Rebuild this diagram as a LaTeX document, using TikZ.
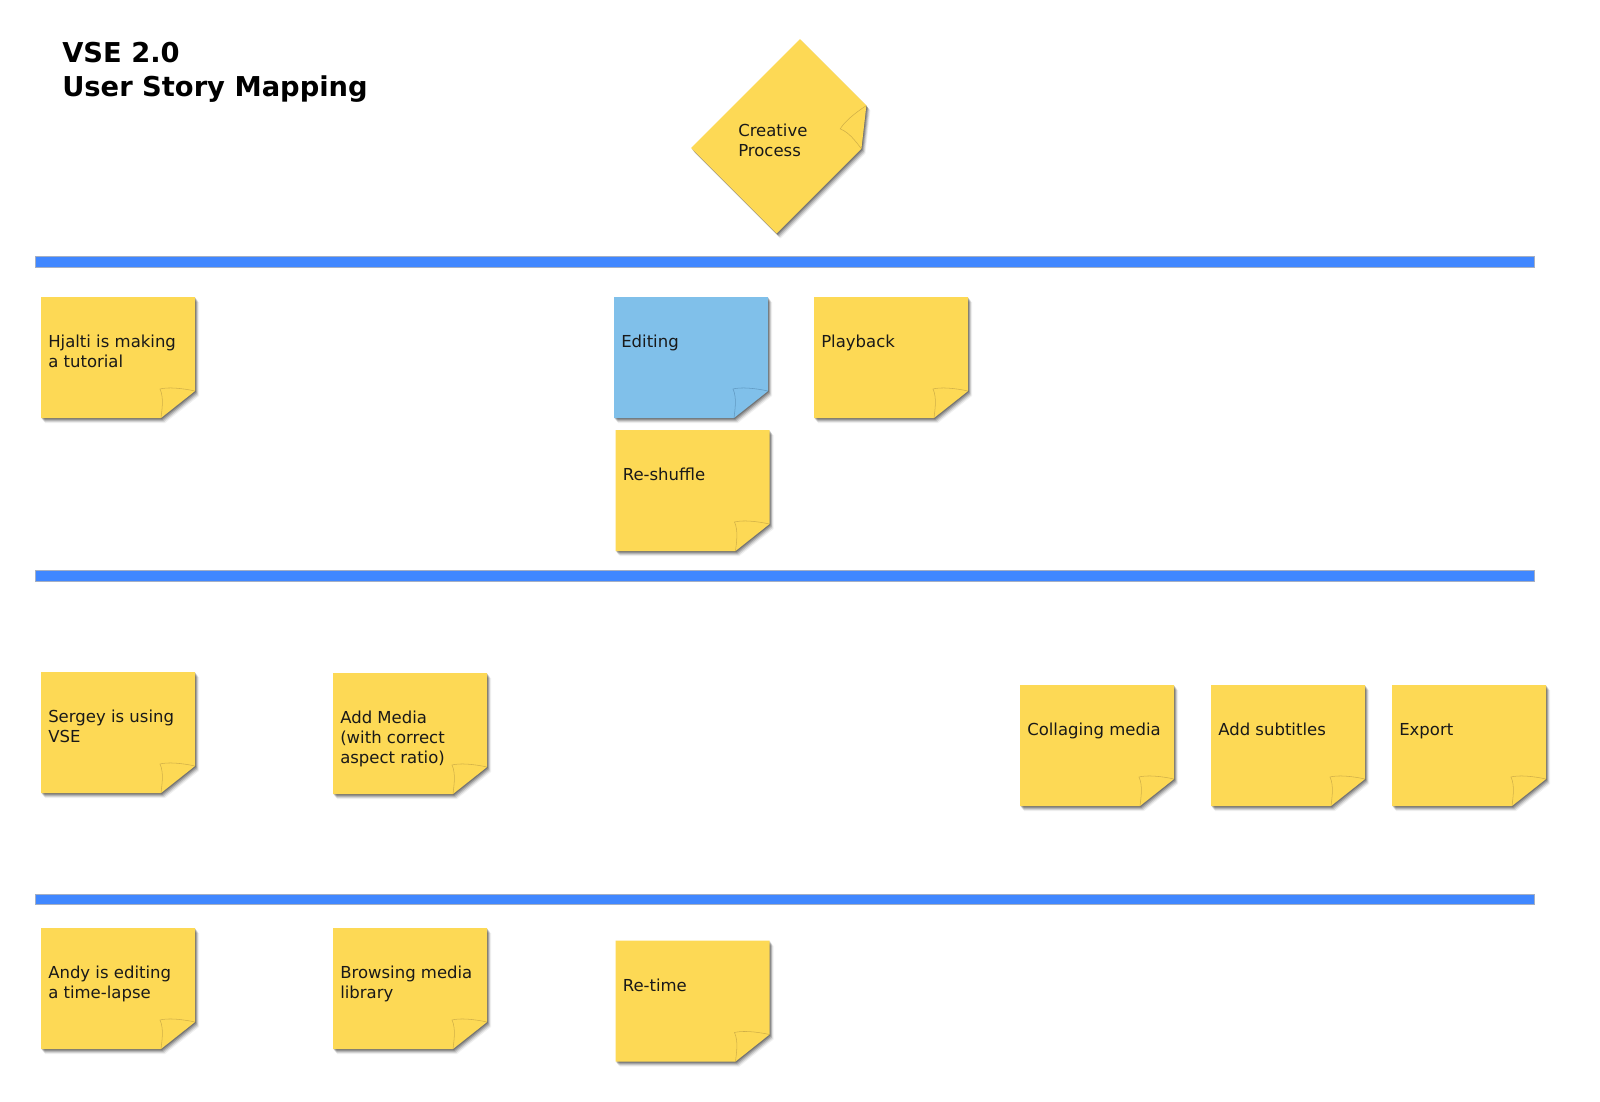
\documentclass[tikz,border=0pt]{standalone}
\usepackage{fontspec}
\setmainfont{DejaVu Sans}
\definecolor{noteyellow}{RGB}{253,217,85}
\definecolor{noteblue}{RGB}{128,192,234}
\definecolor{barblue}{RGB}{64,135,255}
\definecolor{baredge}{RGB}{165,175,195}
\definecolor{folddark}{RGB}{170,140,60}
\definecolor{foldblue}{RGB}{70,120,160}
\definecolor{notetextcol}{RGB}{25,25,25}
\newcommand\notefont{\fontsize{12.375pt}{15pt}\selectfont}
\newcommand\titlefont{\fontsize{20.5pt}{25.5pt}\selectfont\bfseries}
% paper shape of a sticky note: #1 transform, #2 fill, #3 fold colour
\newcommand\notepaper[3]{%
  \foreach \d/\o in {1/0.22,2/0.18,3/0.14,4/0.10,5/0.06}{%
    \fill[black,opacity=\o,shift={(\d*0.8,\d)},#1]
      (0,0) -- (154,0) -- (154,94) -- (120,121) -- (0,121) -- cycle;}
  \fill[#2,#1] (0,0) -- (154,0) -- (154,94) -- (120,121) -- (0,121) -- cycle;
  \draw[#3,line width=0.4pt,opacity=0.55,#1]
    (154,94) .. controls (140,91) and (127,90) .. (119,92)
    .. controls (123,101) and (121,112) .. (120,121);
}
\newcommand\stickynote[5]{%
  \notepaper{shift={(#2,#3)}}{#4}{folddark}
  \node[notetext] (#1) at (#2+7,#3+36.5) {\strut #5};
}
\newcommand\bluenote[5]{%
  \notepaper{shift={(#2,#3)}}{#4}{foldblue}
  \node[notetext] (#1) at (#2+7,#3+36.5) {\strut #5};
}
\begin{document}
\begin{tikzpicture}[x=0.75pt,y=-0.75pt,
  notetext/.style={anchor=north west,inner sep=0pt,align=left,
    font=\notefont,text=notetextcol},
  bar/.style={fill=barblue,draw=baredge,line width=0.5pt}]
\useasboundingbox[fill=white] (0,0) rectangle (1600,1102);

% title
\node[anchor=north west,inner sep=0pt,align=left,font=\titlefont,text=black]
  (title) at (62,38.9) {\strut VSE 2.0\\User Story Mapping};

% separators
\path[bar] (35,256.5) rectangle (1534,267);
\path[bar] (35,570.7) rectangle (1534,581);
\path[bar] (35,894) rectangle (1534,904.3);

% rotated note
\notepaper{shift={(691,148)},rotate=45}{noteyellow}{folddark}
\node[notetext] (creative) at (738,122) {\strut Creative\\Process};

% row 1
\stickynote{hjalti}{41}{297}{noteyellow}{Hjalti is making\\a tutorial}
\bluenote{editing}{614}{297}{noteblue}{Editing}
\stickynote{playback}{814}{297}{noteyellow}{Playback}
\stickynote{reshuffle}{615.5}{430}{noteyellow}{Re-shuffle}

% row 2
\stickynote{sergey}{41}{672}{noteyellow}{Sergey is using\\VSE}
\stickynote{addmedia}{333}{673}{noteyellow}{Add Media\\(with correct\\aspect ratio)}
\stickynote{collaging}{1020}{685}{noteyellow}{Collaging media}
\stickynote{subtitles}{1211}{685}{noteyellow}{Add subtitles}
\stickynote{export}{1392}{685}{noteyellow}{Export}

% row 3
\stickynote{andy}{41}{928}{noteyellow}{Andy is editing\\a time-lapse}
\stickynote{browsing}{333}{928}{noteyellow}{Browsing media\\library}
\stickynote{retime}{615.5}{940.5}{noteyellow}{Re-time}
\end{tikzpicture}
\end{document}
